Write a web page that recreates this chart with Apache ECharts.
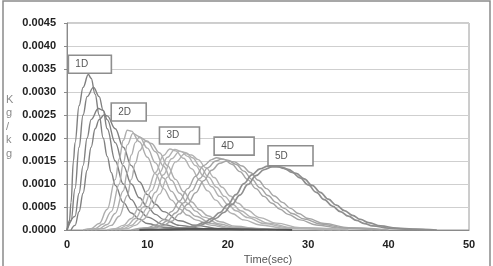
<!DOCTYPE html>
<html>
<head>
<meta charset="utf-8">
<script src="https://cdn.jsdelivr.net/npm/echarts@6/dist/echarts.min.js"></script>
<style>
html,body{margin:0;padding:0;background:#fff;}
#chart{width:493px;height:266px;}
</style>
</head>
<body>
<div id="chart"></div>
<script>
'use strict'

// axis ticks
var xTicks = [0, 10, 20, 30, 40, 50];
var yTicks = [0, 0.0005, 0.001, 0.0015, 0.002, 0.0025, 0.003, 0.0035, 0.004, 0.0045];
var groupNames = ['1D', '2D', '3D', '4D', '5D'];

// [time(sec), Kg/kg]
var d1a = [[0,0],[0.3,0.0002],[0.5,0.0006],[0.8,0.0015],[1,0.0019],[1.5,0.0027],[2,0.0031],[2.65,0.00338],[3,0.0033],[3.5,0.00295],[4,0.0025],[4.5,0.002],[5,0.0016],[5.5,0.00125],[6,0.00097],[7,0.0006],[8,0.00037],[9,0.00023],[10,0.00014],[12,0.00006],[15,0.00002],[20,0]];
var d1b = [[0,0],[0.5,0.0002],[1,0.0009],[1.5,0.0018],[2,0.0025],[2.5,0.0029],[3.3,0.0031],[4,0.0029],[4.5,0.0026],[5,0.0022],[6,0.0015],[7,0.001],[8,0.00066],[9,0.00043],[10,0.00028],[12,0.00012],[14,0.00005],[18,0.00001],[22,0]];
var d1c = [[0,0],[1,0.0003],[1.5,0.0008],[2,0.0014],[2.5,0.002],[3,0.0024],[3.9,0.00264],[4.5,0.0026],[5,0.0024],[6,0.0019],[7,0.0014],[8,0.001],[9,0.0007],[10,0.0005],[11,0.00034],[12,0.00023],[14,0.0001],[17,0.00003],[22,0]];
var d1d = [[0.5,0],[1,0.0001],[1.5,0.0004],[2,0.0008],[2.5,0.0013],[3,0.0018],[3.5,0.0022],[4,0.0024],[4.6,0.0025],[5,0.00248],[6,0.0022],[7,0.0018],[8,0.0014],[9,0.00105],[10,0.00077],[11,0.00056],[12,0.0004],[14,0.0002],[16,0.0001],[19,0.00003],[24,0]];

var d2a = [[2,0],[3,0.00003],[4,0.00014],[5,0.00045],[6,0.0011],[6.5,0.00155],[7,0.00195],[7.5,0.00217],[8,0.00215],[9,0.00192],[10,0.00158],[11,0.00122],[12,0.0009],[13,0.00065],[14,0.00046],[15,0.00032],[16,0.00022],[18,0.0001],[20,0.00004],[24,0]];
var d2b = [[2.5,0],[3.5,0.00003],[4.5,0.00013],[5.5,0.0004],[6.5,0.001],[7,0.00145],[7.5,0.00185],[8.2,0.0021],[9,0.00203],[10,0.00178],[11,0.00146],[12,0.00113],[13,0.00084],[14,0.00061],[15,0.00043],[16,0.0003],[18,0.00014],[20,0.00006],[25,0]];
var d2c = [[3,0],[4,0.00003],[5,0.00012],[6,0.00036],[7,0.00085],[7.5,0.00125],[8,0.00163],[8.5,0.0019],[9,0.00202],[10,0.00193],[11,0.0017],[12,0.00139],[13,0.00108],[14,0.0008],[15,0.00058],[16,0.00041],[17,0.00028],[19,0.00013],[21,0.00005],[26,0]];
var d2d = [[3.5,0],[4.5,0.00003],[5.5,0.0001],[6.5,0.0003],[7.5,0.00075],[8,0.0011],[8.5,0.00145],[9,0.00172],[9.8,0.00193],[10.5,0.00188],[11.5,0.00168],[12.5,0.0014],[13.5,0.0011],[14.5,0.00083],[15.5,0.00061],[16.5,0.00044],[17.5,0.00031],[19,0.00018],[21,0.00008],[24,0.00002],[28,0]];

var d3a = [[5,0],[6,0.00003],[7,0.0001],[8,0.00025],[9,0.0005],[10,0.00085],[11,0.00125],[12,0.00162],[12.8,0.00176],[13.5,0.00172],[14.5,0.00156],[15.5,0.00133],[16.5,0.00108],[17.5,0.00085],[18.5,0.00065],[19.5,0.00049],[20.5,0.00036],[22,0.00022],[24,0.00011],[27,0.00004],[32,0]];
var d3b = [[5.5,0],[6.5,0.00003],[7.5,0.0001],[8.5,0.00025],[9.5,0.0005],[10.5,0.00085],[11.5,0.00124],[12.5,0.00158],[13.4,0.00175],[14.2,0.00171],[15,0.0016],[16,0.0014],[17,0.00117],[18,0.00094],[19,0.00073],[20,0.00056],[21,0.00042],[22.5,0.00027],[24.5,0.00014],[27.5,0.00005],[33,0]];
var d3c = [[6,0],[7,0.00003],[8,0.0001],[9,0.00024],[10,0.00048],[11,0.00082],[12,0.0012],[13,0.00155],[14,0.00171],[14.8,0.00168],[15.6,0.00157],[16.6,0.00137],[17.6,0.00115],[18.6,0.00093],[19.6,0.00073],[20.6,0.00056],[21.6,0.00042],[23,0.00028],[25,0.00015],[28,0.00005],[34,0]];
var d3d = [[6.5,0],[7.5,0.00003],[8.5,0.0001],[9.5,0.00023],[10.5,0.00046],[11.5,0.00078],[12.5,0.00115],[13.5,0.00148],[14.7,0.00166],[15.5,0.00163],[16.3,0.00153],[17.3,0.00135],[18.3,0.00114],[19.3,0.00093],[20.3,0.00074],[21.3,0.00058],[22.3,0.00044],[24,0.00027],[26,0.00015],[29,0.00005],[35,0]];

var d4a = [[8,0],[10,0.00005],[11,0.00011],[12,0.00022],[13,0.0004],[14,0.00063],[15,0.0009],[16,0.00117],[17,0.0014],[18,0.00153],[18.6,0.00157],[19.5,0.00154],[20.5,0.00143],[21.5,0.00127],[22.5,0.00109],[23.5,0.0009],[24.5,0.00073],[25.5,0.00058],[26.5,0.00045],[27.5,0.00034],[29,0.00022],[31,0.00011],[34,0.00004],[38,0]];
var d4b = [[8.5,0],[10.5,0.00005],[11.5,0.0001],[12.5,0.0002],[13.5,0.00037],[14.5,0.00059],[15.5,0.00085],[16.5,0.00112],[17.5,0.00135],[18.5,0.0015],[19.2,0.00154],[20,0.00152],[21,0.00143],[22,0.00128],[23,0.0011],[24,0.00092],[25,0.00075],[26,0.0006],[27,0.00047],[28,0.00036],[29.5,0.00024],[31.5,0.00013],[34.5,0.00005],[39,0]];
var d4c = [[9,0],[11,0.00005],[12,0.0001],[13,0.00019],[14,0.00035],[15,0.00056],[16,0.00081],[17,0.00107],[18,0.0013],[19,0.00145],[19.9,0.0015],[20.8,0.00148],[21.8,0.00139],[22.8,0.00125],[23.8,0.00108],[24.8,0.0009],[25.8,0.00074],[26.8,0.0006],[27.8,0.00047],[28.8,0.00036],[30,0.00025],[32,0.00014],[35,0.00005],[40,0]];

var d5a = [[11,0],[13,0.00002],[15,0.00006],[16,0.0001],[17,0.00016],[18,0.00025],[19,0.00038],[20,0.00055],[21,0.00077],[22,0.00101],[23,0.0012],[24,0.00133],[25,0.00139],[26,0.00139],[27,0.00134],[28,0.00125],[29,0.00113],[30,0.00098],[31,0.00082],[32,0.00066],[33,0.00052],[34,0.0004],[35,0.0003],[36,0.00021],[37,0.00014],[38,0.00009],[40,0.00004],[42,0.00002],[45,0]];
var d5b = [[11.5,0],[13.5,0.00002],[15.5,0.00006],[16.5,0.0001],[17.5,0.00016],[18.5,0.00025],[19.5,0.00038],[20.5,0.00055],[21.5,0.00076],[22.5,0.00099],[23.5,0.00118],[24.5,0.00131],[25.5,0.00137],[26.5,0.00137],[27.5,0.00132],[28.5,0.00123],[29.5,0.00111],[30.5,0.00097],[31.5,0.00082],[32.5,0.00067],[33.5,0.00054],[34.5,0.00042],[35.5,0.00032],[36.5,0.00023],[37.5,0.00016],[39,0.00009],[41,0.00004],[43,0.00002],[46,0]];

// dark near-zero trace along the bottom
var dBase = [[9,0],[12,0.00001],[15,0.00002],[20,0.00002],[25,0.00001],[28,0]];

var groups = [
    {name: '1D', curves: [d1a, d1b, d1c, d1d], color: '#808080', width: 1.4},
    {name: '2D', curves: [d2a, d2b, d2c, d2d], color: '#adadad', width: 1.4},
    {name: '3D', curves: [d3a, d3b, d3c, d3d], color: '#b2b2b2', width: 1.4},
    {name: '4D', curves: [d4a, d4b, d4c], color: '#a4a4a4', width: 1.4},
    {name: '5D', curves: [d5a, d5b], color: '#8e8e8e', width: 1.7},
    {name: 'base', curves: [dBase], color: '#555555', width: 2}
];

var series = [];
groups.forEach(function (g) {
    g.curves.forEach(function (c) {
        series.push({
            name: g.name,
            type: 'line',
            data: c,
            smooth: 0.4,
            smoothMonotone: 'x',
            showSymbol: false,
            silent: true,
            lineStyle: {color: g.color, width: g.width}
        });
    });
});

var chartView = echarts.init(document.getElementById('chart'), null, {renderer: 'canvas'});
chartView.setOption({
    animation: false,
    backgroundColor: '#fff',
    textStyle: {fontFamily: 'Liberation Sans, Arial, sans-serif'},
    grid: {left: 67, right: 24, top: 23, bottom: 36, outerBoundsMode: 'none', containLabel: false,
        show: true, borderColor: '#9a9a9a', borderWidth: 1},
    xAxis: {
        type: 'value', min: xTicks[0], max: xTicks[xTicks.length - 1], interval: 10,
        name: 'Time(sec)', nameLocation: 'middle', nameGap: 23,
        nameTextStyle: {color: '#555', fontSize: 11},
        axisLine: {lineStyle: {color: '#8a8a8a'}},
        axisTick: {show: false},
        splitLine: {show: false},
        axisLabel: {color: '#222', fontWeight: 'bold', fontSize: 11, margin: 9}
    },
    yAxis: {
        type: 'value', min: yTicks[0], max: yTicks[yTicks.length - 1], interval: 0.0005,
        axisLine: {show: true, lineStyle: {color: '#8a8a8a'}},
        axisTick: {show: true, length: 3, lineStyle: {color: '#8a8a8a'}},
        splitLine: {lineStyle: {color: '#cfcfcf'}},
        axisLabel: {color: '#222', fontWeight: 'bold', fontSize: 11, margin: 11,
            formatter: function (v) { return v.toFixed(4); }}
    },
    series: series
});

// annotation boxes, anchored in data space (top-left corner)
var boxAnchors = [[0.17, 0.0038], [5.5, 0.00276], [11.5, 0.00224], [18.3, 0.00202], [25.0, 0.00183]];
var boxSizes = [[43, 18], [35, 18], [40, 17], [40, 18], [45, 20]];
var graphics = [];
groupNames.forEach(function (n, i) {
    var p = chartView.convertToPixel({gridIndex: 0}, boxAnchors[i]);
    graphics.push({
        type: 'rect', silent: true, z: 100,
        shape: {x: p[0], y: p[1], width: boxSizes[i][0], height: boxSizes[i][1]},
        style: {fill: '#fff', stroke: '#8e8e8e', lineWidth: 1.6}
    });
    graphics.push({
        type: 'text', silent: true, z: 101,
        x: p[0] + 7, y: p[1] + boxSizes[i][1] / 2,
        style: {text: n, fill: '#555', font: '10px Liberation Sans, Arial, sans-serif', verticalAlign: 'middle'}
    });
});
// y axis title, letters stacked
graphics.push({
    type: 'text', silent: true, left: 6, top: 93,
    style: {text: 'K\ng\n/\nk\ng', fill: '#8a8a8a', font: '11px Liberation Sans, Arial, sans-serif', lineHeight: 13.5, align: 'center'}
});
// outer frame
graphics.push({
    type: 'rect', silent: true,
    shape: {x: 3, y: 1, width: 487, height: 270},
    style: {fill: 'none', stroke: '#8a8a8a', lineWidth: 1.5}
});
chartView.setOption({graphic: graphics});
</script>
</body>
</html>
